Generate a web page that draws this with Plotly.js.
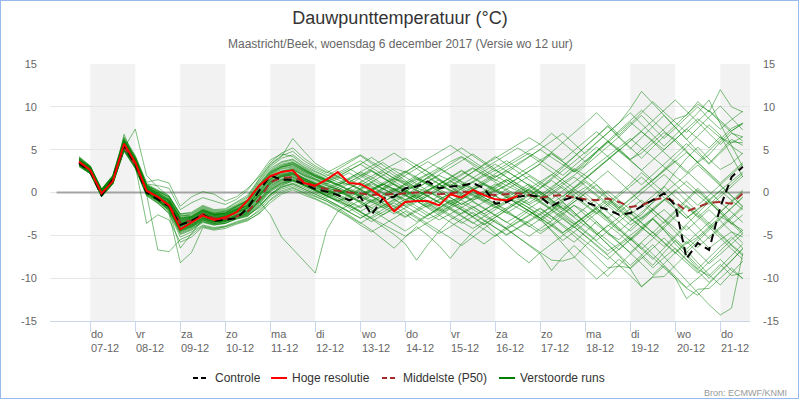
<!DOCTYPE html>
<html><head><meta charset="utf-8">
<script src="https://cdn.plot.ly/plotly-3.0.1.min.js"></script>
<style>
html,body{margin:0;padding:0;background:#fff;}
#wrap{position:relative;width:800px;height:400px;overflow:hidden;}
#chart{width:800px;height:400px;}
#frame{position:absolute;left:0;top:0;width:797px;height:397px;border:1px solid #97b9ec;pointer-events:none;}
</style></head><body>
<div id="wrap"><div id="chart"></div><div id="frame"></div></div>
<script>
// ---------- data ----------
const runStart = Date.UTC(2017, 11, 6, 18, 0);   // first forecast step
const stepHours = 6;

const controle = [3.4,2.5,-0.3,1.5,5.5,3.3,0.0,-0.8,-1.6,-3.8,-3.3,-2.6,-3.3,-3.2,-3.0,-1.8,0.2,2.0,1.5,1.5,1.0,0.4,0.1,-0.3,-0.9,-0.5,-2.6,-0.7,-0.5,0.5,0.7,1.3,0.5,0.7,0.8,1.1,0.5,-1.3,-1.1,-0.5,-0.3,-0.5,-1.6,-0.9,-0.5,-1.1,-1.6,-2.0,-2.6,-2.4,-1.6,-0.9,-0.1,-1.5,-7.7,-5.9,-6.7,-1.7,1.8,3.0];

const hogeResolutie = [3.6,2.6,-0.1,1.3,5.7,3.5,0.2,-0.5,-1.5,-4.3,-3.5,-2.7,-3.2,-2.9,-2.3,-0.9,0.8,1.9,2.4,2.6,1.1,0.8,1.5,2.4,1.1,1.0,0.3,-0.6,-2.2,-1.1,-1.0,-1.0,-1.5,-0.2,-0.6,0.3,-0.3,-0.8,-0.9,-0.4];

const middelste = [3.5,2.5,-0.2,1.5,5.3,3.2,0.3,-0.6,-1.5,-3.5,-3.3,-2.5,-3.0,-3.1,-2.8,-2.2,-0.8,1.2,1.7,1.8,1.3,0.7,0.4,0.2,0.0,-0.1,-0.3,-0.2,-0.2,-0.1,0.0,0.0,-0.2,-0.1,0.1,0.0,-0.2,-0.3,-0.2,-0.1,-0.3,-0.6,-0.4,-0.3,-0.6,-0.8,-0.9,-0.7,-1.1,-1.7,-1.5,-0.9,-0.6,-1.1,-2.2,-1.7,-1.2,-1.1,-1.3,-0.1];

const verstoordeRuns = [
[3.6,2.7,0.0,1.5,5.6,3.5,0.4,-0.5,-1.2,-3.5,-3.2,-2.4,-2.9,-2.8,-2.2,-1.5,0.3,1.8,2.5,2.6,1.9,1.2,0.8,0.4,0.0,-0.5,0.2,0.9,1.6,1.2,0.5,0.1,-0.4,-1.0,-0.5,0.3,0.9,0.5,-0.3,-0.8,-1.4,-0.7,0.4,1.6,2.8,2.0,0.9,-0.6,-2.1,-3.3,-2.6,-1.1,0.7,2.4,4.0,5.3,3.9,2.7,3.4,4.6],
[3.2,2.3,-0.4,1.1,5.0,3.0,-0.2,-1.0,-2.0,-4.2,-3.8,-3.0,-3.4,-3.3,-2.8,-2.5,-1.0,0.8,1.5,1.8,1.2,0.6,0.0,-0.6,-1.2,-1.8,-1.0,-0.2,0.5,0.0,-0.8,-1.5,-2.2,-1.6,-0.8,-0.2,-0.9,-1.6,-2.4,-3.0,-3.6,-4.5,-3.8,-2.6,-1.5,-2.2,-3.4,-4.8,-5.5,-4.2,-3.0,-2.0,-3.2,-4.6,-6.0,-5.2,-4.0,-2.8,-3.6,-4.4],
[4.0,3.0,0.3,1.9,6.1,4.0,0.8,0.2,-0.6,-2.8,-2.6,-1.8,-2.3,-2.2,-1.5,-0.8,1.2,2.8,3.6,3.9,3.0,2.4,1.8,1.2,0.9,0.4,1.2,2.0,2.8,2.4,1.6,1.0,0.5,1.4,2.2,2.9,2.1,1.5,0.8,1.6,2.5,3.4,4.5,3.6,2.4,3.2,4.8,6.0,5.1,3.9,4.6,5.8,7.0,6.2,4.8,3.5,4.4,5.9,7.2,8.1],
[3.4,2.5,-0.2,1.3,5.3,3.2,0.1,-0.8,-1.8,-4.5,-4.0,-3.2,-3.6,-3.4,-2.9,-2.6,-1.8,-0.2,0.8,1.4,1.0,0.3,-0.4,-1.0,-0.6,0.2,-0.5,-1.3,-2.0,-1.4,-0.6,0.1,-0.6,-1.3,-2.0,-2.8,-2.1,-1.2,-0.5,-1.3,-2.2,-3.0,-2.1,-0.8,0.4,-0.5,-1.8,-3.0,-4.3,-5.6,-4.5,-3.1,-4.4,-6.0,-7.4,-8.9,-7.6,-6.3,-5.2,-6.5],
[3.7,2.8,0.1,1.6,5.8,3.7,0.6,-0.3,-0.9,-3.0,-2.9,-2.0,-2.6,-2.5,-1.9,-1.2,0.6,2.2,3.0,3.2,2.5,1.8,1.3,0.9,1.6,2.4,1.8,1.0,0.4,-0.3,0.5,1.3,2.0,1.4,0.6,1.2,1.9,2.6,1.8,1.0,0.2,-0.6,0.3,1.2,2.0,3.1,4.2,5.4,6.5,7.8,9.0,7.6,6.3,7.5,8.8,10.0,8.6,7.4,8.5,9.5],
[3.0,2.2,-0.5,1.0,4.8,2.8,-0.4,-1.3,-2.4,-5.2,-4.6,-3.8,-4.1,-3.9,-3.4,-3.0,-2.2,-0.8,0.2,0.6,0.0,-0.5,-1.0,-1.6,-2.3,-3.0,-2.2,-1.5,-0.8,-1.6,-2.4,-3.1,-2.5,-1.8,-1.2,-2.0,-2.8,-3.5,-4.2,-3.4,-2.6,-1.8,-2.8,-3.9,-5.1,-6.2,-5.0,-3.8,-4.8,-6.0,-7.2,-8.5,-7.0,-5.6,-6.8,-8.2,-9.6,-10.8,-9.4,-8.0],
[4.2,3.1,0.4,2.0,6.5,4.3,1.2,1.5,1.1,-1.6,-0.5,0.1,-0.2,-1.0,-0.5,0.5,1.8,3.5,4.6,5.2,4.0,3.1,2.4,1.8,1.2,2.0,2.8,3.5,2.6,1.8,1.0,1.8,2.7,3.6,4.2,3.4,2.5,1.8,2.6,3.4,4.3,5.0,4.1,3.2,2.4,3.5,4.6,5.8,7.0,8.2,7.1,6.0,5.0,6.2,7.4,8.6,7.5,6.4,5.8,6.5],
[3.5,2.6,0.0,1.5,5.2,7.4,2.0,0.6,-0.4,-2.6,-2.8,-2.1,-2.6,-2.4,-1.6,-0.9,0.9,2.4,3.0,3.3,2.6,2.0,1.5,1.0,0.3,-0.4,-1.2,-0.5,0.3,1.0,1.6,0.9,0.2,-0.6,-1.4,-0.7,0.0,0.8,1.5,0.7,-0.1,-1.0,-1.9,-1.1,-0.3,0.6,-0.4,-1.5,-2.6,-3.8,-2.9,-1.8,-0.8,-1.9,-3.0,-2.0,-1.0,0.2,-0.9,-2.0],
[3.3,2.4,-0.3,1.2,6.8,3.6,0.3,-0.9,-2.2,-6.5,-4.8,-3.1,-3.5,-3.2,-2.6,-2.2,-0.6,1.0,1.8,2.1,1.4,0.8,0.2,-0.3,0.4,1.2,0.6,-0.1,-0.8,-1.6,-0.9,-0.2,0.6,1.3,0.5,-0.3,-1.0,-0.4,0.4,1.1,1.9,1.0,0.0,-1.1,-2.3,-3.5,-2.4,-1.3,-0.2,1.0,2.3,1.2,0.0,-1.3,-2.7,-4.0,-5.4,-4.2,-3.0,-1.8],
[3.8,2.9,0.2,1.7,5.9,3.8,0.7,-0.2,-1.1,-3.6,-3.3,-2.5,-3.0,-2.7,-2.0,-1.4,0.2,1.6,2.2,2.4,1.7,1.0,0.5,0.1,-0.5,-1.1,-1.8,-2.6,-1.9,-1.1,-0.4,-1.2,-2.0,-2.8,-3.6,-2.8,-2.0,-1.3,-2.2,-3.1,-4.0,-3.1,-2.2,-1.2,-2.3,-3.5,-4.8,-6.1,-7.4,-8.9,-11.0,-9.9,-9.8,-8.5,-7.2,-8.6,-10.0,-8.7,-7.4,-6.0],
[3.1,2.2,-0.4,1.0,5.1,3.1,-3.6,-2.6,-3.2,-5.8,-5.2,-4.0,-4.3,-4.0,-3.6,-3.2,-2.5,-1.2,-0.2,0.3,-0.3,-0.8,-1.4,-2.1,-2.9,-3.8,-4.6,-3.8,-3.0,-2.2,-3.0,-3.9,-4.8,-4.0,-3.1,-2.3,-3.2,-4.1,-5.0,-4.2,-3.4,-2.6,-3.6,-4.7,-3.8,-2.8,-1.8,-2.9,-4.1,-5.3,-6.6,-5.4,-4.1,-2.9,-1.6,-2.8,-4.0,-5.3,-6.6,-7.8],
[3.9,3.0,0.3,1.8,6.2,4.1,0.9,0.1,-0.5,-2.5,-2.4,-1.6,-2.1,-2.0,-1.2,-0.5,1.5,3.2,4.2,6.3,4.8,3.4,2.6,1.9,1.1,0.4,-0.4,0.5,1.4,2.3,3.2,2.4,1.5,0.6,1.5,2.4,3.3,4.2,3.3,2.4,1.5,0.6,1.7,2.9,4.1,5.4,6.6,7.8,6.5,5.2,4.0,5.3,6.6,7.8,9.1,10.3,9.5,8.2,7.0,6.0],
[3.5,2.6,-0.1,1.4,5.5,3.4,0.2,-0.6,-1.6,-4.0,-3.6,-2.8,-3.2,-3.1,-2.5,-2.0,-0.4,1.2,1.9,2.0,1.4,0.9,0.3,-0.3,-1.0,-0.4,0.3,1.0,0.4,-0.3,-1.0,-1.7,-0.9,-0.1,0.7,0.1,-0.6,-1.3,-2.0,-1.2,-0.4,0.5,1.4,0.5,-0.5,-1.5,-2.5,-1.5,-0.4,0.7,1.8,0.6,-0.6,-1.8,-3.0,-1.9,-0.8,0.3,1.4,2.4],
[3.4,2.5,-0.2,1.3,5.4,3.3,0.0,-0.9,-1.9,-4.4,-3.9,-3.0,-3.4,-3.3,-2.7,-2.3,-1.0,-2.6,-5.2,-6.6,-8.0,-9.4,-4.4,-2.2,-1.4,-2.2,-3.0,-2.3,-1.5,-0.8,-1.6,-2.4,-3.2,-2.5,-1.7,-1.0,-1.8,-2.6,-3.4,-4.2,-5.1,-4.2,-3.3,-2.4,-1.5,-2.6,-3.7,-4.8,-5.9,-7.0,-5.8,-4.6,-5.8,-7.0,-8.2,-9.4,-8.1,-6.8,-5.5,-4.4],
[3.6,2.8,0.1,1.6,5.7,3.6,0.5,-0.4,-1.3,-3.3,-3.1,-2.3,-2.7,-2.6,-2.0,-1.6,0.1,1.5,2.3,2.7,2.0,1.5,1.0,1.6,2.3,1.5,0.7,0.0,-0.7,0.1,0.9,1.7,1.0,0.2,-0.5,0.3,1.0,1.8,2.5,1.7,0.8,0.0,-0.9,-1.9,-0.8,0.3,1.4,2.5,1.3,0.1,-1.1,-2.3,-3.6,-2.3,-1.0,0.3,-1.0,-2.3,-3.6,-4.9],
[3.3,2.4,-0.3,1.2,5.2,3.1,0.0,-0.7,-1.7,-4.1,-3.7,-2.9,-3.3,-3.2,-2.6,-2.1,-0.9,0.6,1.4,1.7,1.1,0.5,-0.1,-0.8,-1.5,-2.3,-3.1,-4.0,-4.9,-6.0,-7.9,-6.1,-4.5,-3.2,-2.4,-1.6,-2.5,-3.4,-4.3,-5.2,-6.1,-7.0,-6.0,-5.0,-4.0,-5.1,-6.2,-7.4,-8.5,-9.7,-11.0,-9.8,-8.6,-10.0,-12.4,-11.3,-11.2,-10.0,-8.8,-10.1],
[3.7,2.7,0.0,1.5,5.6,3.5,0.3,-0.5,-1.4,-3.7,-3.4,-2.6,-3.0,-2.9,-2.3,-1.8,-0.1,1.4,2.1,2.3,1.6,1.1,0.6,0.1,-0.4,0.3,1.0,0.4,-0.2,-0.8,-0.3,0.3,0.9,0.3,-0.3,-0.9,-0.4,0.2,0.8,0.2,-0.5,-1.2,-2.0,-2.8,-3.7,-2.8,-1.9,-1.0,-2.0,-3.0,-4.0,-5.1,-3.9,-2.7,-1.5,-2.6,-3.8,-5.0,-6.2,-7.4],
[4.1,3.1,0.4,2.0,6.3,4.2,1.0,0.8,0.5,-2.0,-1.2,-0.6,-1.0,-1.4,-0.8,0.3,2.0,3.8,4.5,4.2,3.2,2.5,1.9,2.7,3.5,4.3,3.4,2.5,1.6,2.4,3.2,4.0,4.8,5.5,4.6,3.7,2.8,3.6,4.4,5.2,4.4,3.5,4.7,5.8,7.0,8.1,9.3,8.0,6.7,8.0,9.3,10.6,9.4,8.2,7.0,8.3,9.6,8.4,7.2,8.0],
[3.2,2.3,-0.4,1.1,5.1,3.0,-0.3,-1.2,-2.3,-4.9,-4.4,-3.5,-3.8,-3.6,-3.1,-2.8,-1.5,-0.3,0.6,1.0,0.4,-0.2,-0.8,-1.5,-2.2,-3.0,-2.3,-1.6,-0.9,-0.2,-1.0,-1.8,-2.6,-3.4,-4.2,-5.1,-6.0,-5.0,-4.0,-3.0,-2.1,-3.2,-4.4,-5.6,-4.6,-3.6,-4.8,-6.0,-7.3,-8.5,-7.3,-6.1,-7.5,-8.9,-10.3,-11.7,-13.1,-14.3,-13.5,-7.1],
[3.5,2.6,0.0,1.4,5.4,3.4,0.1,-0.7,-1.5,-3.9,-3.5,-2.7,-3.1,-3.0,-2.4,-1.9,-0.6,0.9,1.6,1.9,1.3,0.7,0.1,-0.6,-1.4,-2.2,-1.5,-0.8,-1.6,-2.5,-3.4,-2.6,-1.8,-1.0,-1.9,-2.8,-3.7,-2.9,-2.1,-3.0,-3.9,-4.8,-3.9,-3.0,-4.0,-5.0,-6.1,-7.2,-6.2,-5.2,-6.4,-7.6,-8.8,-10.0,-11.2,-12.0,-10.6,-9.3,-8.0,-6.5],
[3.8,2.8,0.2,1.7,5.8,3.7,0.6,-0.2,-1.0,-3.4,-3.2,-2.4,-2.8,-2.7,-2.1,-1.4,0.4,1.9,2.7,3.0,2.3,1.6,1.1,0.6,0.0,0.8,1.6,2.4,1.7,1.0,0.3,-0.4,0.4,1.2,2.0,2.8,2.0,1.2,0.4,-0.4,-1.2,-0.3,0.6,1.6,2.6,3.7,4.8,5.9,4.8,3.7,2.6,3.8,5.0,6.2,7.4,6.3,5.2,6.5,5.4,4.5],
[3.4,2.5,-0.1,1.3,5.3,3.3,0.1,-0.8,-1.8,-4.3,-3.9,-3.1,-3.5,-3.3,-2.8,-2.4,-1.1,0.3,1.1,1.5,0.9,0.3,-0.3,-1.0,-0.3,0.4,-0.4,-1.2,-2.0,-2.8,-2.0,-1.2,-0.4,-1.2,-2.0,-2.9,-3.8,-2.9,-2.0,-1.1,-0.2,-1.1,-2.1,-3.1,-4.1,-3.1,-2.1,-3.2,-4.3,-5.4,-6.6,-7.8,-6.5,-5.2,-3.9,-5.2,-6.5,-5.5,-4.6,-5.2],
[3.9,2.9,0.3,1.8,6.0,3.9,0.8,0.0,-0.8,-3.0,-2.8,-2.0,-2.5,-2.4,-1.7,-1.0,0.9,2.5,3.3,3.6,2.8,2.1,1.5,0.9,0.3,-0.3,0.4,1.1,1.8,2.5,1.8,1.1,0.4,-0.3,0.5,1.3,2.1,2.9,3.7,2.9,2.1,1.3,0.4,-0.5,0.6,1.7,2.8,3.9,5.0,3.8,2.6,1.4,2.7,4.0,5.3,6.6,7.9,6.7,4.2,1.8],
[3.3,2.4,-0.2,1.2,5.1,3.2,0.0,-0.9,-2.0,-4.6,-4.1,-3.3,-3.7,-3.5,-3.0,-2.6,-1.4,0.1,0.9,1.3,0.8,0.2,-0.4,0.3,1.0,0.3,-0.4,-1.1,-0.4,0.3,1.0,0.2,-0.6,-1.4,-0.6,0.2,-0.6,-1.4,-0.6,0.2,1.0,0.1,-0.8,-1.8,-2.8,-1.8,-0.8,0.2,-0.9,-2.0,-3.1,-2.0,-0.9,0.2,1.3,0.1,-1.1,-2.3,-1.1,0.1],
[3.6,2.7,0.1,1.5,5.7,3.6,0.4,-0.4,-1.2,-3.4,-3.1,-2.3,-2.7,-2.6,-2.0,-1.6,0.0,1.5,2.4,2.8,2.1,1.5,0.9,0.3,-0.3,-1.0,-1.8,-1.1,-0.4,0.3,-0.5,-1.3,-2.1,-1.3,-0.5,0.3,1.1,0.3,-0.5,-1.3,-2.1,-2.9,-3.8,-4.7,-3.7,-2.7,-1.7,-0.7,-1.8,-2.9,-4.0,-5.1,-6.3,-5.0,-3.7,-2.4,-1.1,-2.4,-3.7,-2.6],
[3.1,2.2,-0.5,1.0,4.9,2.9,-0.2,-6.7,-6.9,-5.5,-4.9,-3.9,-4.2,-4.0,-3.5,-3.1,-2.0,-0.5,0.4,0.8,0.2,-0.4,-1.0,-1.8,-2.6,-3.5,-4.4,-5.4,-6.5,-5.2,-4.0,-5.0,-6.2,-7.7,-6.0,-4.6,-3.6,-4.8,-6.0,-7.2,-8.2,-7.0,-7.9,-8.0,-7.6,-6.2,-7.5,-8.8,-8.6,-8.8,-7.5,-8.8,-7.6,-6.5,-7.8,-9.0,-9.7,-8.4,-9.7,-9.4],
[3.7,2.8,0.0,1.6,5.6,3.5,0.5,-0.3,-1.1,-3.2,-3.0,-2.2,-2.6,-2.5,-1.9,-1.3,0.5,2.0,2.8,3.1,2.4,1.8,1.2,1.8,2.5,3.3,2.5,1.7,0.9,0.1,0.9,1.7,2.5,3.3,4.1,3.2,2.3,1.4,2.3,3.2,4.1,5.0,5.9,6.9,5.7,4.5,5.8,7.0,8.2,9.3,8.0,6.7,5.4,6.7,8.0,9.3,10.8,8.0,5.5,3.0],
[3.2,2.4,-0.3,1.1,5.0,3.0,-0.1,-1.1,-2.1,-4.7,-4.2,-3.4,-3.7,-3.6,-3.0,-2.7,-1.6,-0.2,0.7,1.1,0.6,0.0,-0.6,-0.1,0.5,-0.2,-0.9,-1.7,-2.5,-1.8,-1.1,-0.4,-1.2,-2.0,-2.8,-3.6,-2.8,-2.0,-1.2,-0.4,0.4,-0.5,-1.4,-2.4,-3.4,-4.5,-5.6,-4.5,-3.4,-2.3,-3.5,-4.7,-5.9,-7.1,-5.9,-4.7,-3.5,-4.8,-6.1,-7.2],
[3.9,3.0,0.2,1.8,6.0,3.9,0.7,-0.1,-0.9,-3.1,-2.9,-2.1,-2.5,-2.4,-1.8,-1.1,0.7,2.2,3.0,3.4,2.6,1.9,1.4,2.1,2.8,2.0,1.2,0.4,1.2,2.0,2.8,3.6,2.8,2.0,1.2,0.4,1.2,2.0,1.2,0.4,-0.4,0.5,1.5,2.5,3.6,4.7,5.8,6.9,8.1,9.8,11.8,10.4,9.0,7.6,6.2,7.5,8.8,10.1,8.7,7.3],
[3.5,2.6,-0.1,1.4,5.5,3.4,0.3,-0.6,-1.4,-3.6,-3.3,-2.5,-2.9,-2.8,-2.2,-1.7,-0.2,1.3,2.0,2.2,1.6,1.0,0.4,-0.2,0.5,1.2,1.9,2.6,3.3,4.0,3.2,2.4,1.6,0.8,1.6,2.4,3.2,4.0,4.8,5.6,6.4,5.6,4.7,3.8,4.9,6.0,7.1,6.0,4.9,3.8,5.0,6.2,7.4,8.6,9.0,10.6,9.4,12.0,10.0,9.4],
[3.4,2.5,-0.2,1.3,5.3,3.2,0.0,-0.8,-1.7,-4.2,-3.8,-3.0,-3.4,-3.2,-2.7,-2.2,-1.0,0.5,1.3,1.6,1.0,0.4,-0.2,-0.9,-1.6,-0.9,-0.2,0.5,-0.3,-1.1,-1.9,-2.7,-1.9,-1.1,-0.3,-1.1,-1.9,-2.7,-3.5,-2.7,-1.9,-1.1,-0.2,0.7,-0.3,-1.3,-2.3,-3.4,-4.5,-3.4,-2.3,-1.2,-0.1,1.0,2.1,3.2,2.0,0.8,-0.4,-1.6],
[3.6,2.7,0.0,1.5,5.5,3.5,0.4,-0.5,-1.3,-3.6,-3.3,-2.5,-2.9,-2.8,-2.2,-1.7,-0.3,1.1,1.9,2.2,1.5,0.9,0.3,0.9,1.5,0.8,0.1,-0.6,0.2,1.0,1.8,1.0,0.2,-0.6,-1.4,-0.6,0.2,1.0,0.2,-0.6,-1.4,-2.2,-3.1,-2.1,-1.1,-0.1,-1.2,-2.3,-3.4,-4.5,-3.3,-2.1,-0.9,0.3,-1.0,-2.3,-3.6,-2.3,-1.0,0.3],
[4.0,3.0,0.3,1.9,6.1,4.0,0.9,0.2,-0.5,-2.7,-2.5,-1.7,-2.2,-2.1,-1.4,-0.6,1.3,3.0,4.0,4.4,3.4,2.7,2.1,1.5,0.9,1.7,2.5,1.7,0.9,0.1,-0.7,0.1,0.9,1.7,2.5,1.7,0.9,0.1,0.9,1.7,2.5,3.3,2.4,1.5,0.5,1.6,2.7,3.8,4.9,6.0,7.1,5.9,4.7,3.5,2.3,3.6,4.9,6.2,7.5,8.1],
[3.3,2.3,-0.3,1.2,5.2,3.1,-0.1,-0.9,-1.9,-4.4,-4.0,-3.2,-3.6,-3.4,-2.9,-2.5,-1.3,0.2,1.0,1.4,0.8,0.2,-0.4,-1.1,-1.8,-2.6,-3.4,-2.6,-1.8,-1.0,-0.2,-1.0,-1.8,-2.6,-3.4,-4.2,-3.4,-2.6,-1.8,-1.0,-1.8,-3.0,-4.5,-6.0,-7.5,-8.8,-10.1,-9.0,-7.8,-8.9,-7.7,-6.5,-5.3,-6.6,-7.9,-9.2,-10.5,-9.2,-7.9,-6.6],
[3.7,2.8,0.1,1.6,5.7,3.6,0.5,-0.3,-1.0,-3.3,-3.0,-2.2,-2.7,-2.6,-2.0,-1.5,0.2,1.7,2.5,2.9,2.2,1.6,1.0,0.4,-0.2,0.5,1.2,0.5,-0.2,-0.9,-0.1,0.7,1.5,0.7,-0.1,-0.9,-0.1,0.7,1.5,0.7,-0.1,-0.9,0.0,0.9,1.8,0.8,-0.2,-1.2,-2.3,-1.2,-0.1,1.0,2.1,0.9,-0.3,-1.5,-0.3,0.9,2.1,3.3],
[3.5,2.6,0.0,1.4,5.4,3.3,0.2,-0.7,-1.6,-3.9,-3.5,-2.7,-3.1,-3.0,-2.4,-1.9,-0.5,1.0,1.8,2.1,1.4,0.8,0.2,-0.4,-1.0,-1.7,-1.0,-0.3,0.4,-0.3,-1.0,-1.7,-2.4,-1.6,-0.8,0.0,-0.8,-1.6,-2.4,-1.6,-0.8,0.1,-0.9,-1.9,-2.9,-3.9,-4.9,-3.9,-2.9,-1.9,-0.9,-2.0,-3.1,-4.2,-5.3,-6.4,-5.2,-4.0,-2.8,-1.6],
[3.8,2.9,0.2,1.7,5.9,3.8,0.7,-0.1,-0.9,-3.0,-2.8,-2.0,-2.4,-2.3,-1.6,-0.9,1.0,2.6,3.5,3.8,2.9,2.2,1.6,2.3,3.0,3.7,2.9,2.1,1.3,0.5,1.3,2.1,2.9,2.1,1.3,0.5,-0.3,0.5,1.3,2.1,2.9,3.7,4.6,3.6,2.6,1.6,2.7,3.8,4.9,6.0,7.2,8.4,9.6,10.8,9.5,8.2,6.9,5.6,6.9,6.5],
[3.1,2.2,-0.5,1.0,4.9,2.8,-0.3,-1.2,-2.5,-8.2,-7.0,-4.1,-4.4,-4.2,-3.7,-3.3,-2.4,-0.9,0.0,0.5,-0.1,-0.7,-1.3,-2.0,-2.8,-3.6,-2.8,-2.0,-1.2,-2.0,-2.8,-3.6,-4.4,-5.3,-6.2,-5.2,-4.2,-3.2,-4.2,-5.2,-6.2,-7.2,-9.1,-7.5,-6.2,-7.4,-8.6,-9.8,-8.5,-7.2,-5.9,-7.2,-8.5,-9.8,-11.1,-10.0,-8.9,-7.8,-9.1,-10.0],
[3.6,2.7,0.1,1.5,5.6,3.5,0.4,-0.4,-1.2,-3.5,-3.2,-2.4,-2.8,-2.7,-2.1,-1.5,0.1,1.6,2.4,2.7,2.0,1.4,0.8,0.2,-0.4,-1.1,-0.4,0.3,1.0,0.3,-0.4,0.3,1.0,1.7,1.0,0.3,-0.4,0.3,-0.4,-1.1,-1.8,-2.6,-1.7,-0.8,0.2,1.2,0.2,-0.8,-1.8,-0.7,0.4,1.5,2.6,3.7,2.5,1.3,0.1,-1.1,-2.3,-3.5],
[3.4,2.5,-0.1,1.3,5.3,3.2,0.1,-0.8,-1.7,-4.0,-3.7,-2.9,-3.3,-3.1,-2.6,-2.1,-0.8,0.7,1.5,1.8,1.2,0.6,0.0,0.6,1.2,1.9,2.6,1.8,1.0,0.2,-0.6,0.2,1.0,1.8,2.6,1.8,1.0,0.2,-0.6,-1.4,-2.2,-3.0,-3.9,-4.8,-5.8,-4.6,-3.4,-4.6,-5.8,-7.0,-8.3,-9.6,-8.3,-7.0,-5.7,-7.0,-8.3,-7.2,-6.0,-4.8],
[3.9,2.9,0.3,1.8,6.0,3.9,0.8,0.0,-0.7,-2.9,-2.7,-1.9,-2.4,-2.2,-1.6,-0.9,0.8,2.4,3.2,3.5,2.7,2.0,1.4,0.8,1.5,2.2,1.5,0.8,0.1,0.8,1.5,2.2,1.4,0.6,-0.2,0.6,1.4,2.2,3.0,3.8,4.6,3.8,2.9,2.0,3.1,4.2,5.3,4.2,3.1,2.0,0.9,2.1,3.3,4.5,5.7,4.5,3.3,4.6,5.9,5.8],
[3.3,2.4,-0.2,1.2,5.2,3.1,0.0,-0.9,-1.8,-4.3,-3.8,-3.0,-3.4,-3.3,-2.7,-2.3,-1.1,0.4,1.2,1.5,0.9,0.3,-0.3,0.4,-0.4,-1.2,-2.0,-2.8,-3.6,-4.5,-3.6,-2.7,-1.8,-0.9,-1.7,-2.5,-3.3,-4.1,-4.9,-4.1,-3.3,-2.5,-1.6,-2.6,-3.6,-4.6,-5.7,-6.8,-6.0,-5.0,-4.0,-3.0,-2.0,-3.2,-4.4,-3.2,-2.0,-3.3,-4.6,-5.9],
[3.6,2.7,0.0,1.5,5.6,3.5,0.4,-0.5,-1.4,-3.7,-3.4,-2.6,-3.0,-2.9,-2.3,-1.8,-0.2,1.3,2.1,2.4,1.7,1.1,0.5,1.1,1.7,2.4,3.1,3.8,4.6,3.7,2.8,1.9,1.0,0.1,0.9,1.7,2.5,3.3,2.5,1.7,0.9,0.1,-0.8,0.2,1.2,2.2,3.2,4.2,5.2,6.3,5.2,4.1,3.0,1.9,0.8,-0.3,-1.4,-0.2,1.0,2.2],
[3.2,2.3,-0.4,1.1,5.0,3.0,-0.2,-1.0,-2.1,-4.8,-4.3,-3.4,-3.8,-3.6,-3.1,-2.7,-1.7,-0.3,0.6,1.0,0.4,-0.2,-0.8,-1.5,-2.2,-1.5,-0.8,-1.5,-2.2,-2.9,-2.2,-1.5,-0.8,-0.1,-0.9,-1.7,-2.5,-1.7,-0.9,-0.1,0.7,-0.2,-1.1,-2.1,-1.1,-0.1,0.9,-0.2,-1.3,-2.4,-3.5,-4.7,-3.4,-2.1,-0.8,0.5,-0.8,-2.1,-3.4,-4.7],
[3.7,2.8,0.1,1.6,5.8,3.7,0.6,-0.2,-1.0,-3.2,-3.0,-2.2,-2.6,-2.5,-1.9,-1.2,0.6,2.1,2.9,3.3,2.5,1.9,1.3,1.9,2.6,3.3,4.1,3.2,2.3,1.4,0.5,1.3,2.1,2.9,3.7,4.5,3.6,2.7,1.8,0.9,0.0,1.0,2.0,3.1,4.2,5.3,6.5,7.7,6.4,5.1,6.4,7.7,9.0,7.6,6.2,4.8,3.4,4.8,6.2,5.5],
[3.5,2.6,-0.1,1.4,5.4,3.4,0.2,-0.6,-1.5,-3.8,-3.4,-2.6,-3.1,-2.9,-2.3,-1.8,-0.4,1.1,1.9,2.2,1.5,0.9,0.3,-0.3,0.3,-0.4,-1.1,-1.8,-1.1,-0.4,0.3,-0.4,-1.1,-1.8,-2.5,-1.8,-1.1,-0.4,-1.1,-1.8,-2.5,-3.3,-2.4,-1.5,-2.5,-3.5,-4.5,-5.6,-6.7,-5.5,-4.3,-3.1,-4.4,-5.7,-7.0,-5.7,-4.4,-3.1,-1.8,-0.5],
[3.8,2.8,0.2,1.7,5.9,3.8,0.7,-0.1,-0.8,-3.1,-2.9,-2.1,-2.5,-2.4,-1.7,-1.0,0.8,2.3,3.1,3.5,2.7,2.0,1.5,0.9,0.2,-0.5,0.2,0.9,1.6,0.9,0.2,-0.5,-1.2,-0.4,0.4,1.2,0.4,-0.4,-1.2,-0.4,0.4,1.2,2.1,1.1,0.1,-0.9,-1.9,-3.0,-1.9,-0.8,0.3,1.4,2.5,3.6,4.7,3.5,2.3,1.1,2.3,3.5],
[3.3,2.4,-0.3,1.2,5.1,3.1,0.0,-0.9,-1.9,-4.5,-4.0,-3.2,-3.6,-3.4,-2.8,-2.4,-1.2,0.3,1.1,1.4,0.8,0.2,-0.4,-1.0,-1.6,-2.3,-3.0,-3.7,-4.4,-5.1,-4.3,-3.5,-2.7,-1.9,-2.7,-3.5,-4.3,-5.1,-4.3,-3.5,-2.7,-1.9,-2.8,-3.7,-4.7,-5.7,-6.7,-7.8,-6.6,-5.4,-4.2,-3.0,-4.2,-5.4,-6.6,-5.4,-4.2,-3.0,-1.8,-0.6],
[4.1,3.0,0.4,1.9,6.3,4.1,1.0,0.3,-0.4,-2.5,-2.3,-1.5,-2.0,-1.9,-1.1,-0.3,1.6,3.3,4.3,4.8,3.7,2.9,2.3,3.0,3.7,4.4,3.6,2.8,2.0,1.2,2.0,2.8,3.6,4.4,5.2,4.3,3.4,2.5,3.3,4.1,4.9,5.7,6.9,5.8,4.7,3.6,4.8,6.0,7.2,8.4,9.6,8.4,7.2,6.0,4.8,3.5,2.2,0.9,-0.4,-1.7],
[3.5,2.6,0.0,1.5,5.5,3.4,0.3,-0.6,-1.5,-3.7,-3.4,-2.6,-3.0,-2.9,-2.3,-1.8,-0.3,1.2,2.0,2.3,1.6,1.0,0.4,-0.2,-0.8,-0.2,0.4,1.0,0.3,-0.4,-1.1,-0.4,0.3,1.0,0.3,-0.4,-1.1,-1.8,-1.1,-0.4,0.3,-0.5,-1.3,-0.4,0.5,1.4,0.4,-0.6,-1.6,-2.6,-1.5,-0.4,0.7,-0.5,-1.7,-2.9,-1.7,-0.5,0.7,1.9]
];

// axis labels
const dayTicks = ['2017-12-07','2017-12-08','2017-12-09','2017-12-10','2017-12-11','2017-12-12','2017-12-13','2017-12-14','2017-12-15','2017-12-16','2017-12-17','2017-12-18','2017-12-19','2017-12-20','2017-12-21'];
const dayNames = ['do','vr','za','zo','ma','di','wo','do','vr','za','zo','ma','di','wo','do'];
const dayDates = ['07-12','08-12','09-12','10-12','11-12','12-12','13-12','14-12','15-12','16-12','17-12','18-12','19-12','20-12','21-12'];
const shadedDays = ['2017-12-07','2017-12-09','2017-12-11','2017-12-13','2017-12-15','2017-12-17','2017-12-19','2017-12-21'];
const yTickValues = [-15,-10,-5,0,5,10,15];
const yTickLabels = ['-15','-10','-5','0','5','10','15'];
const xRange = ['2017-12-06 02:30','2017-12-21 15:50'];
const zeroLineStart = '2017-12-06 06:00';

// ---------- build ----------
function fmt(ms){ return new Date(ms).toISOString().slice(0,16).replace('T',' '); }
const nSteps = Math.max(controle.length, ...verstoordeRuns.map(r=>r.length));
const times = [];
for (let i=0;i<nSteps;i++) times.push(fmt(runStart + i*stepHours*3600000));

const FONT = 'Liberation Sans, Arial, Helvetica, sans-serif';
const traces = [];
traces.push({x:[zeroLineStart, xRange[1]], y:[0,0], mode:'lines', line:{color:'#a3a3a3', width:2}, hoverinfo:'skip', showlegend:false});
verstoordeRuns.forEach(function(run){
  traces.push({x:times.slice(0,run.length), y:run, mode:'lines', name:'Verstoorde runs',
    line:{color:'rgba(0,128,0,0.5)', width:1}, hoverinfo:'skip', showlegend:false});
});
traces.push({x:times.slice(0,middelste.length), y:middelste, mode:'lines', name:'Middelste (P50)', line:{color:'#a52a2a', width:2, dash:'8px,5px'}, showlegend:false});
traces.push({x:times.slice(0,controle.length), y:controle, mode:'lines', name:'Controle', line:{color:'#000000', width:2, dash:'8px,5px'}, showlegend:false});
traces.push({x:times.slice(0,hogeResolutie.length), y:hogeResolutie, mode:'lines', name:'Hoge resolutie', line:{color:'#ff0000', width:2}, showlegend:false});
traces.push({x:[times[0]], y:[0], yaxis:'y2', mode:'markers', marker:{opacity:0}, hoverinfo:'skip', showlegend:false});

const L=50, R=750, T=64, B=321;
const px = v => (v-L)/(R-L);
const py = v => (B-v)/(B-T);

const shapes = shadedDays.map(function(d){
  const end = new Date(Date.parse(d+'T00:00:00Z')+86400000).toISOString().slice(0,10);
  return {type:'rect', xref:'x', yref:'paper', x0:d, x1:(end>xRange[1]?xRange[1]:end), y0:0, y1:1, fillcolor:'#f2f2f2', line:{width:0}, layer:'below'};
});

const annotations = dayTicks.map(function(d,i){
  return {x:d, xref:'x', y:py(327), yref:'paper', text:dayNames[i]+'<br>'+dayDates[i], showarrow:false,
    xanchor:'left', yanchor:'top', align:'left', borderpad:0, font:{family:FONT, size:11, color:'#666666'}};
});
annotations.push({x:0.5, xref:'paper', y:py(44), yref:'paper', text:'Maastricht/Beek, woensdag 6 december 2017 (Versie wo 12 uur)', showarrow:false, xanchor:'center', yanchor:'middle', font:{family:FONT, size:12, color:'#666666'}});
annotations.push({x:px(789), xref:'paper', y:py(393), yref:'paper', text:'Bron: ECMWF/KNMI', showarrow:false, xanchor:'right', yanchor:'middle', font:{family:FONT, size:9, color:'#999999'}});

// custom legend
const legendItems = [
  {label:'Controle', color:'#000000', dash:'5px,3px', x0:193, x1:207, tx:214},
  {label:'Hoge resolutie', color:'#ff0000', dash:'solid', x0:271, x1:287, tx:291},
  {label:'Middelste (P50)', color:'#a52a2a', dash:'5px,3px', x0:382, x1:396, tx:402},
  {label:'Verstoorde runs', color:'#008000', dash:'solid', x0:499, x1:515, tx:519}
];
const legY = 378;
legendItems.forEach(function(it){
  shapes.push({type:'line', xref:'paper', yref:'paper', x0:px(it.x0), x1:px(it.x1), y0:py(legY), y1:py(legY), line:{color:it.color, width:2, dash:it.dash}});
  annotations.push({x:px(it.tx), xref:'paper', y:py(legY), yref:'paper', text:it.label, showarrow:false, xanchor:'left', yanchor:'middle', borderpad:0, font:{family:FONT, size:12, color:'#333333'}});
});

const yCommon = {range:[-15,15], tickvals:yTickValues, ticktext:yTickLabels, zeroline:false, showline:false, ticks:'', tickfont:{family:FONT, size:11, color:'#666666'}, fixedrange:true, ticklabelstandoff:12};

const layout = {
  width:800, height:400,
  margin:{l:L, r:800-R, t:T, b:400-B, pad:0},
  paper_bgcolor:'#ffffff', plot_bgcolor:'#ffffff',
  font:{family:FONT, color:'#333333'},
  title:{text:'Dauwpunttemperatuur (°C)', font:{family:FONT, size:18, color:'#333333'}, x:0.5, xanchor:'center', y:1-18/400, yanchor:'middle', yref:'container'},
  showlegend:false,
  hovermode:false,
  xaxis:{type:'date', range:xRange, tickvals:dayTicks, showticklabels:false, ticks:'outside', ticklen:10, tickcolor:'#ccd6eb', tickwidth:1, showgrid:false, zeroline:false, showline:true, linecolor:'#ccd6eb', linewidth:1, fixedrange:true},
  yaxis:Object.assign({}, yCommon, {showgrid:true, gridcolor:'#e6e6e6', gridwidth:1}),
  yaxis2:Object.assign({}, yCommon, {overlaying:'y', side:'right', showgrid:false}),
  shapes:shapes,
  annotations:annotations
};

Plotly.newPlot('chart', traces, layout, {displayModeBar:false, staticPlot:true});
</script>
</body></html>
